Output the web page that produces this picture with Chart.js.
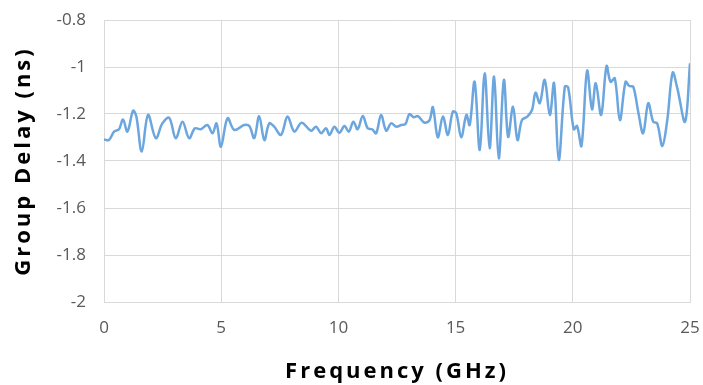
<!DOCTYPE html>
<html lang="en">
  <head>
    <meta charset="UTF-8" />
    <title>Group Delay vs Frequency</title>
    <script src="https://cdn.jsdelivr.net/npm/chart.js"></script>
    <style>
      html, body { margin: 0; padding: 0; background: #fff; }
      .container { width: 703px; height: 385px; }
    </style>
  </head>
  <body>
    <div class="container">
      <canvas id="delayChart" width="703" height="385"></canvas>
    </div>

    <script>
      // values
      const frequencies = [
        0.00, 0.21, 0.43, 0.64, 0.81, 1.00, 1.24, 1.38, 1.61, 1.88,
        2.21, 2.49, 2.78, 3.06, 3.35, 3.63, 3.88, 4.13, 4.41, 4.63,
        4.80, 4.99, 5.27, 5.56, 5.98, 6.20, 6.41, 6.62, 6.84, 7.05,
        7.26, 7.55, 7.83, 8.12, 8.43, 8.83, 9.05, 9.26, 9.47, 9.62,
        9.83, 10.04, 10.26, 10.44, 10.64, 10.82, 11.04, 11.25, 11.44, 11.61,
        11.82, 12.04, 12.25, 12.47, 12.68, 12.86, 13.03, 13.21, 13.39, 13.68,
        13.89, 14.03, 14.24, 14.46, 14.67, 14.88, 15.03, 15.24, 15.46, 15.60,
        15.81, 16.03, 16.24, 16.45, 16.64, 16.84, 17.06, 17.24, 17.45, 17.64,
        17.83, 18.06, 18.26, 18.41, 18.59, 18.80, 19.02, 19.20, 19.40, 19.66,
        19.80, 20.04, 20.18, 20.37, 20.61, 20.82, 20.98, 21.21, 21.44, 21.61,
        21.79, 22.01, 22.25, 22.41, 22.58, 22.79, 23.00, 23.22, 23.43, 23.60,
        23.82, 24.03, 24.26, 24.46, 24.79, 25.00
      ];
      const groupDelay = [
        -1.308, -1.311, -1.275, -1.265, -1.223, -1.275, -1.186, -1.211, -1.360, -1.204,
        -1.303, -1.240, -1.216, -1.303, -1.233, -1.303, -1.261, -1.265, -1.247, -1.282,
        -1.240, -1.339, -1.218, -1.268, -1.247, -1.251, -1.303, -1.209, -1.311, -1.240,
        -1.254, -1.289, -1.211, -1.275, -1.237, -1.271, -1.254, -1.282, -1.261, -1.289,
        -1.254, -1.280, -1.251, -1.275, -1.233, -1.265, -1.209, -1.261, -1.265, -1.282,
        -1.204, -1.271, -1.240, -1.254, -1.247, -1.243, -1.200, -1.214, -1.209, -1.237,
        -1.226, -1.171, -1.299, -1.211, -1.289, -1.190, -1.197, -1.299, -1.204, -1.247,
        -1.063, -1.353, -1.027, -1.346, -1.041, -1.389, -1.055, -1.297, -1.169, -1.311,
        -1.226, -1.211, -1.183, -1.109, -1.154, -1.055, -1.204, -1.069, -1.396, -1.084,
        -1.086, -1.265, -1.251, -1.336, -1.016, -1.180, -1.069, -1.204, -0.996, -1.063,
        -1.048, -1.226, -1.063, -1.081, -1.084, -1.190, -1.282, -1.154, -1.233, -1.240,
        -1.336, -1.226, -1.024, -1.091, -1.233, -0.984
      ];
      const xTicks = [0, 5, 10, 15, 20, 25];
      const yTicks = [-2, -1.8, -1.6, -1.4, -1.2, -1, -0.8];

      const points = frequencies.map((f, i) => ({ x: f, y: groupDelay[i] }));

      // canvas letterSpacing for the bold axis titles only
      // (titles sit in the grid layer, tick labels are pushed to z 1)
      const spacedTitles = {
        id: "spacedTitles",
        beforeDraw(chart) {
          chart.ctx.letterSpacing = "3px";
        },
        beforeDatasetsDraw(chart) {
          chart.ctx.letterSpacing = "0px";
        },
      };

      const gridColor = "#d9d9d9";
      const tickFont = { family: "Open Sans", size: 17 };
      const titleFont = { family: "Open Sans", size: 22, weight: "bold" };

      const ctx = document.getElementById("delayChart").getContext("2d");
      new Chart(ctx, {
        type: "scatter",
        data: {
          datasets: [
            {
              label: "Group Delay",
              data: points,
              showLine: true,
              borderColor: "#6ca6de",
              borderWidth: 2.5,
              pointRadius: 0,
              tension: 0.35,
            },
          ],
        },
        options: {
          responsive: false,
          animation: false,
          layout: { padding: 0 },
          plugins: {
            legend: { display: false },
            tooltip: { enabled: false },
          },
          scales: {
            x: {
              type: "linear",
              min: 0,
              max: 25,
              afterBuildTicks: (axis) => {
                axis.ticks = xTicks.map((v) => ({ value: v }));
              },
              afterFit: (axis) => {
                axis.height = 83;
                axis.paddingLeft = 0;
                axis.paddingRight = 13;
              },
              grid: { color: gridColor, drawTicks: false },
              border: { color: gridColor },
              ticks: {
                font: tickFont,
                color: "#595959",
                padding: 16,
                maxRotation: 0,
                z: 1,
              },
              title: {
                display: true,
                text: "Frequency (GHz)",
                font: titleFont,
                color: "#000",
                padding: { top: 0, bottom: 0 },
              },
            },
            y: {
              min: -2,
              max: -0.8,
              afterBuildTicks: (axis) => {
                axis.ticks = yTicks.map((v) => ({ value: v }));
              },
              afterFit: (axis) => {
                axis.width = 104;
                axis.paddingTop = 20;
                axis.paddingBottom = 0;
              },
              grid: { color: gridColor, drawTicks: false },
              border: { color: gridColor },
              ticks: {
                font: tickFont,
                color: "#595959",
                padding: 18,
                z: 1,
                callback: (value) => String(Number(value.toFixed(1))),
              },
              title: {
                display: true,
                text: "Group Delay (ns)",
                font: titleFont,
                color: "#000",
                padding: { top: 11, bottom: 0 },
              },
            },
          },
        },
        plugins: [spacedTitles],
      });
    </script>
  </body>
</html>
